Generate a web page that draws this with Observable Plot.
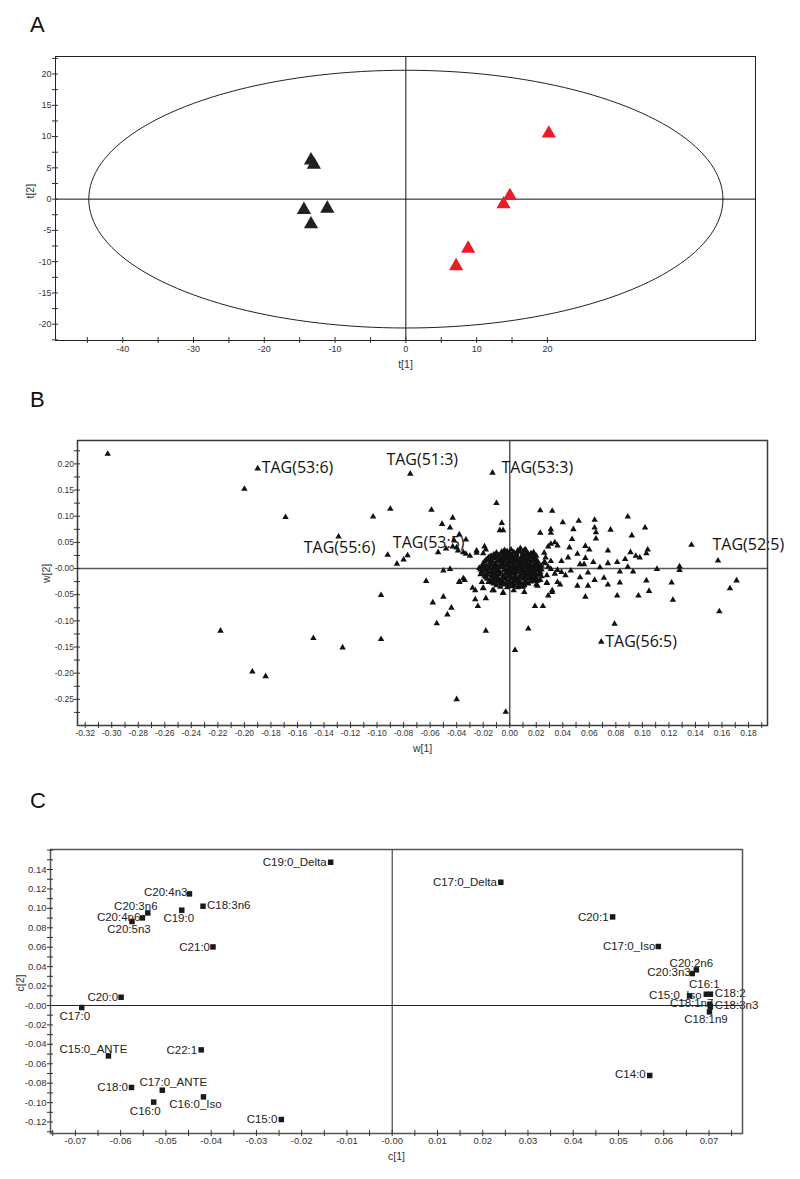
<!DOCTYPE html>
<html><head><meta charset="utf-8">
<script src="https://cdn.jsdelivr.net/npm/d3@7"></script>
<script src="https://cdn.jsdelivr.net/npm/@observablehq/plot@0.6"></script>
<style>
body{margin:0;background:#fff}
#root{position:relative;width:800px;height:1179px;overflow:hidden;background:#fff}
#root svg.panel{position:absolute;left:0}
</style></head><body><div id="root"></div>
<script>
// ---------------- Panel A: score plot t[1] / t[2] ----------------
const aGroup1 = [[-13.4,6.2],[-13.0,5.5],[-14.4,-1.7],[-11.1,-1.5],[-13.4,-4.0]];
const aGroup2 = [[20.2,10.5],[14.7,0.5],[13.8,-0.8],[8.8,-7.9],[7.1,-10.7]];
const aEllipseAxes = [44.8, 20.6];
const aXLabelVals = [-40,-30,-20,-10,0,10,20];
const aXLabelText = ["-40","-30","-20","-10","0","10","20"];
const aYLabelVals = [20,15,10,5,0,-5,-10,-15,-20];
const aYLabelText = ["20","15","10","5","0","-5","-10","-15","-20"];

// ---------------- Panel B: loading plot w[1] / w[2] ----------------
const bOuter = [
[-0.303,0.219],[-0.190,0.191],[-0.200,0.152],[-0.169,0.098],[-0.218,-0.119],[-0.148,-0.133],
[-0.194,-0.197],[-0.184,-0.206],[-0.075,0.181],[-0.013,0.183],[-0.103,0.099],[-0.090,0.114],
[-0.059,0.112],[-0.043,0.097],[-0.051,0.085],[-0.045,0.078],[-0.129,0.061],[-0.038,0.065],
[-0.033,0.055],[-0.043,0.042],[-0.040,0.040],[-0.092,0.026],[-0.080,0.017],[-0.085,0.009],
[-0.054,0.031],[-0.035,0.031],[-0.030,0.024],[-0.025,0.034],[-0.019,0.042],[-0.020,0.029],
[-0.045,-0.001],[-0.063,-0.024],[-0.038,-0.025],[-0.035,-0.019],[-0.097,-0.051],[-0.058,-0.065],
[-0.050,-0.054],[-0.044,-0.075],[-0.047,-0.088],[-0.055,-0.105],[-0.126,-0.151],[-0.097,-0.135],
[-0.040,-0.250],[-0.028,-0.037],[-0.026,-0.042],[-0.026,-0.059],[-0.024,-0.072],[-0.018,-0.057],
[-0.020,-0.038],[-0.012,-0.042],[-0.018,-0.119],[-0.021,-0.026],[-0.016,-0.026],[-0.013,-0.027],
[0.014,-0.115],[0.004,-0.156],[-0.003,-0.274],[0.019,-0.072],[0.025,-0.072],[0.029,-0.052],
[0.032,-0.042],[0.038,-0.031],[0.051,-0.033],[0.059,-0.033],[0.057,-0.054],[0.074,-0.031],
[0.083,-0.027],[0.081,-0.052],[0.079,-0.106],[0.069,-0.140],[0.097,-0.052],[0.105,-0.043],
[0.103,-0.023],[0.122,-0.027],[0.123,-0.060],[0.158,-0.082],[0.166,-0.038],[0.171,-0.023],
[-0.005,-0.046],[0.003,-0.042],[0.020,-0.031],[0.008,-0.034],[0.028,-0.027],[-0.010,0.125],
[-0.006,0.087],[-0.0075,0.073],[-0.005,0.073],[0.023,0.111],[0.032,0.110],[0.040,0.088],
[0.052,0.091],[0.064,0.093],[0.064,0.078],[0.065,0.069],[0.065,0.057],[0.048,0.075],
[0.047,0.056],[0.023,0.068],[0.031,0.075],[0.031,0.068],[0.076,0.074],[0.089,0.099],
[0.092,0.063],[0.102,0.078],[0.104,0.036],[0.103,0.029],[0.091,0.031],[0.095,0.024],
[0.098,0.021],[0.137,0.045],[0.157,0.015],[0.128,0.004],[0.128,-0.003],[0.111,-0.001],
[0.074,0.034],[0.081,0.012],[0.074,0.010],[0.083,-0.006],[0.093,-0.006],[0.089,0.003],
[0.051,0.028],[0.057,0.043],[0.060,0.036],[0.057,0.020],[0.053,0.008],[0.056,0.008],
[0.063,0.012],[0.059,-0.008],[0.053,-0.017],[0.042,-0.013],[0.039,-0.007],[0.039,0.014],
[0.031,-0.001],[0.027,0.010],[0.026,0.030],[0.029,0.042],[0.031,0.047],[0.034,0.050],
[0.036,0.044],[0.027,0.021],[0.008,0.039],[0.012,0.036],[0.018,0.031],[-0.015,0.022],
[0.024,-0.015],[0.028,-0.013],[0.021,-0.023],[-0.033,0.028],[-0.042,0.054],[-0.048,0.038],
[-0.077,0.025],[-0.038,-0.026],[-0.034,-0.022],[-0.020,-0.037],[-0.013,-0.042],[-0.005,-0.047],
[0.011,-0.045],[0.021,-0.033],[0.023,-0.022],[0.028,-0.028],[0.032,-0.045],[0.036,-0.026],
[0.026,0.012],[0.029,0.003],[0.031,0.014],[0.034,-0.010],[0.036,-0.003],[-0.039,0.034],
[-0.025,0.030],[-0.018,0.036],[-0.050,-0.004],[0.044,0.021],[0.046,-0.004],[0.068,0.002],
[0.071,-0.018],[0.064,-0.022],[0.087,0.018],[0.045,0.040]
];
const bCore = [
[-0.006,0.032],[-0.002,0.033],[0.003,0.031],[0.008,0.032],[0.013,0.030],
[-0.012,0.027],[-0.008,0.026],[-0.003,0.028],[0.001,0.026],[0.005,0.027],[0.010,0.026],[0.014,0.028],[0.018,0.025],
[-0.016,0.021],[-0.011,0.022],[-0.007,0.020],[-0.002,0.021],[0.002,0.022],[0.006,0.020],[0.011,0.021],[0.015,0.022],[0.019,0.020],
[-0.018,0.016],[-0.014,0.015],[-0.009,0.016],[-0.005,0.017],[0.000,0.015],[0.004,0.016],[0.008,0.015],[0.012,0.017],[0.017,0.016],[0.021,0.014],
[-0.020,0.010],[-0.015,0.011],[-0.011,0.009],[-0.006,0.010],[-0.002,0.011],[0.003,0.009],[0.007,0.010],[0.011,0.011],[0.015,0.009],[0.019,0.010],[0.022,0.008],
[-0.021,0.004],[-0.017,0.005],[-0.012,0.003],[-0.008,0.004],[-0.003,0.005],[0.001,0.003],[0.005,0.004],[0.009,0.005],[0.014,0.003],[0.018,0.004],[0.022,0.002],
[-0.022,-0.002],[-0.018,-0.001],[-0.013,-0.003],[-0.009,-0.002],[-0.004,-0.001],[0.000,-0.003],[0.004,-0.002],[0.009,-0.001],[0.013,-0.003],[0.017,-0.002],[0.021,-0.001],
[-0.020,-0.008],[-0.016,-0.007],[-0.011,-0.009],[-0.007,-0.008],[-0.002,-0.007],[0.002,-0.009],[0.006,-0.008],[0.011,-0.007],[0.015,-0.009],[0.019,-0.008],[0.023,-0.007],
[-0.019,-0.014],[-0.014,-0.013],[-0.010,-0.015],[-0.005,-0.014],[-0.001,-0.013],[0.004,-0.015],[0.008,-0.014],[0.012,-0.013],[0.016,-0.015],[0.020,-0.014],
[-0.017,-0.020],[-0.012,-0.019],[-0.008,-0.021],[-0.003,-0.020],[0.001,-0.019],[0.005,-0.021],[0.010,-0.020],[0.014,-0.019],[0.018,-0.021],
[-0.014,-0.026],[-0.009,-0.025],[-0.005,-0.027],[0.000,-0.026],[0.004,-0.025],[0.008,-0.027],[0.012,-0.026],[0.016,-0.025],
[-0.010,-0.032],[-0.005,-0.031],[-0.001,-0.033],[0.003,-0.032],[0.007,-0.031],[0.011,-0.032]
];
const bCore2 = [
[-0.004,0.035],[0.001,0.036],[0.006,0.034],[0.011,0.035],
[-0.010,0.030],[-0.005,0.029],[0.000,0.030],[0.005,0.029],[0.010,0.030],[0.016,0.029],
[-0.014,0.024],[-0.009,0.024],[-0.005,0.023],[0.000,0.024],[0.004,0.024],[0.009,0.023],[0.013,0.024],[0.017,0.023],[0.020,0.024],
[-0.017,0.018],[-0.012,0.019],[-0.007,0.018],[-0.003,0.019],[0.002,0.018],[0.006,0.018],[0.010,0.019],[0.014,0.018],[0.019,0.018],
[-0.019,0.013],[-0.013,0.013],[-0.008,0.013],[-0.004,0.013],[0.001,0.012],[0.005,0.013],[0.009,0.013],[0.013,0.012],[0.017,0.013],[0.021,0.012],
[-0.020,0.007],[-0.014,0.007],[-0.010,0.006],[-0.005,0.007],[-0.001,0.007],[0.003,0.006],[0.007,0.007],[0.012,0.007],[0.016,0.006],[0.020,0.007],[0.024,0.005],
[-0.023,0.001],[-0.019,0.002],[-0.015,0.001],[-0.010,0.001],[-0.006,0.002],[-0.001,0.000],[0.003,0.001],[0.007,0.001],[0.011,0.002],[0.016,0.000],[0.020,0.001],[0.024,-0.002],
[-0.021,-0.005],[-0.017,-0.004],[-0.013,-0.006],[-0.009,-0.005],[-0.004,-0.004],[0.000,-0.006],[0.004,-0.005],[0.008,-0.004],[0.013,-0.006],[0.017,-0.005],[0.021,-0.004],
[-0.022,-0.011],[-0.017,-0.011],[-0.013,-0.012],[-0.008,-0.011],[-0.003,-0.010],[0.000,-0.012],[0.004,-0.011],[0.009,-0.010],[0.013,-0.012],[0.018,-0.011],[0.022,-0.011],
[-0.018,-0.017],[-0.013,-0.016],[-0.009,-0.018],[-0.005,-0.017],[-0.001,-0.016],[0.003,-0.018],[0.007,-0.017],[0.011,-0.016],[0.015,-0.018],[0.019,-0.017],
[-0.015,-0.023],[-0.011,-0.022],[-0.006,-0.024],[-0.002,-0.023],[0.003,-0.022],[0.007,-0.024],[0.012,-0.023],[0.016,-0.022],[0.020,-0.024],
[-0.012,-0.029],[-0.007,-0.028],[-0.003,-0.030],[0.002,-0.029],[0.006,-0.028],[0.010,-0.030],[0.014,-0.029],
[-0.007,-0.035],[-0.002,-0.036],[0.002,-0.034],[0.006,-0.036],[0.010,-0.035]
];
const bLabelNames = ["TAG(53:6)","TAG(51:3)","TAG(53:3)","TAG(55:6)","TAG(53:5)","TAG(52:5)","TAG(56:5)"];
const bLabelW1 = [-0.190,-0.075,-0.013,-0.129,-0.043,0.137,0.069];
const bLabelW2 = [0.191,0.181,0.183,0.061,0.042,0.045,-0.140];
const bXLabelVals = [-0.32,-0.30,-0.28,-0.26,-0.24,-0.22,-0.20,-0.18,-0.16,-0.14,-0.12,-0.10,-0.08,-0.06,-0.04,-0.02,0,0.02,0.04,0.06,0.08,0.10,0.12,0.14,0.16,0.18];
const bXLabelText = ["-0.32","-0.30","-0.28","-0.26","-0.24","-0.22","-0.20","-0.18","-0.16","-0.14","-0.12","-0.10","-0.08","-0.06","-0.04","-0.02","0.00","0.02","0.04","0.06","0.08","0.10","0.12","0.14","0.16","0.18"];
const bYLabelVals = [0.20,0.15,0.10,0.05,0,-0.05,-0.10,-0.15,-0.20,-0.25];
const bYLabelText = ["0.20","0.15","0.10","0.05","-0.00","-0.05","-0.10","-0.15","-0.20","-0.25"];

// ---------------- Panel C: loading plot c[1] / c[2] ----------------
const cNames = ["C19:0_Delta","C20:4n3","C18:3n6","C19:0","C20:3n6","C20:4n6","C20:5n3","C21:0","C20:0","C17:0","C15:0_ANTE","C22:1","C18:0","C17:0_ANTE","C16:0","C16:0_Iso","C15:0","C17:0_Delta","C20:1","C17:0_Iso","C20:2n6","C20:3n3","C15:0_Iso","C16:1","C18:2","C18:1n7","C18:3n3","C18:1n9","C14:0"];
const cX = [-0.0136,-0.0448,-0.0418,-0.0465,-0.0540,-0.0552,-0.0575,-0.0396,-0.0599,-0.0686,-0.0627,-0.0422,-0.0576,-0.0508,-0.0527,-0.0417,-0.0245,0.0240,0.0487,0.0588,0.0672,0.0663,0.0657,0.0694,0.0703,0.0702,0.0703,0.0701,0.0569];
const cY = [0.1475,0.1149,0.1022,0.0981,0.0953,0.0902,0.0865,0.0603,0.0085,-0.0021,-0.0519,-0.0457,-0.0844,-0.0872,-0.0995,-0.0941,-0.1174,0.1269,0.0912,0.0607,0.0367,0.0329,0.0099,0.0116,0.0116,0.0013,-0.0014,-0.0066,-0.0721];
const cXLabelVals = [-0.07,-0.06,-0.05,-0.04,-0.03,-0.02,-0.01,0,0.01,0.02,0.03,0.04,0.05,0.06,0.07];
const cXLabelText = ["-0.07","-0.06","-0.05","-0.04","-0.03","-0.02","-0.01","-0.00","0.01","0.02","0.03","0.04","0.05","0.06","0.07"];
const cYLabelVals = [0.14,0.12,0.10,0.08,0.06,0.04,0.02,0,-0.02,-0.04,-0.06,-0.08,-0.10,-0.12];
const cYLabelText = ["0.14","0.12","0.10","0.08","0.06","0.04","0.02","-0.00","-0.02","-0.04","-0.06","-0.08","-0.10","-0.12"];

// ---------------- label placement (style) ----------------
const bPlace = [["start",4,-1],["middle",12,-14],["start",9,-4.5],["middle",1,11.5],["middle",-24,-4],["start",21,0],["start",4,0]];
const cPlace = {
 "C19:0_Delta":["end",-4,0],"C20:4n3":["end",-2,-1.5],"C18:3n6":["start",4,-1],"C19:0":["middle",-3,8],
 "C20:3n6":["middle",-12,-7],"C20:4n6":["end",-2,-1],"C20:5n3":["middle",-3,7.5],"C21:0":["end",-3,0],
 "C20:0":["end",-3,0],"C17:0":["middle",-7,9],"C15:0_ANTE":["middle",-15,-7],"C22:1":["end",-4,0],
 "C18:0":["end",-3.5,0],"C17:0_ANTE":["middle",11,-8],"C16:0":["middle",-8.5,9],"C16:0_Iso":["middle",-8,7.5],
 "C15:0":["end",-4,0],"C17:0_Delta":["end",-4,0],"C20:1":["end",-4,0],"C17:0_Iso":["end",-3,0],
 "C20:2n6":["middle",-5,-7],"C20:3n3":["end",-1.5,-1.5],"C15:0_Iso":["end",12,-0.5],"C16:1":["middle",-2,-9.5],
 "C18:2":["start",4.5,-0.5],"C18:1n7":["end",3.5,-1],"C18:3n3":["start",4.5,-2],"C18:1n9":["middle",-3.5,7.5],
 "C14:0":["end",-4,-1]
};

const NARROW = "'Liberation Sans Narrow','Liberation Sans',Arial,sans-serif";
const root = document.getElementById("root");

function panel(o) {
  const marks = [
    Plot.ruleX([0], {stroke: o.zeroStroke, strokeWidth: o.zeroWidth}),
    Plot.ruleY([0], {stroke: o.zeroStroke, strokeWidth: o.zeroWidth}),
    ...o.marks,
    Plot.frame({stroke: o.frameStroke, strokeWidth: o.frameWidth}),
    Plot.ruleX(o.xTicks, {x: d => d, y1: o.yd[0], y2: o.yd[0], insetTop: -3, insetBottom: -3, stroke: "#333", strokeWidth: 1}),
    Plot.ruleY(o.yTicks, {y: d => d, x1: o.xd[0], x2: o.xd[0], insetLeft: -3, insetRight: -3, stroke: "#333", strokeWidth: 1}),
    Plot.text(o.xLab, {x: d => d, frameAnchor: "bottom", dy: o.xPad, text: (d, i) => o.xLabText[i], fontSize: o.tickFont, fontFamily: NARROW, fill: "#333"}),
    Plot.text(o.yLab, {y: d => d, frameAnchor: "left", dx: -o.yPad, textAnchor: "end", text: (d, i) => o.yLabText[i], fontSize: o.tickFont, fontFamily: NARROW, fill: "#333"}),
    Plot.text([o.xTitle], {frameAnchor: "bottom", dy: o.xTitleDy, text: d => d, fontSize: 10.5, fontFamily: NARROW, fill: "#333"}),
    Plot.text([o.yTitle], {frameAnchor: "left", dx: o.yTitleDx, rotate: -90, text: d => d, fontSize: 10.5, fontFamily: NARROW, fill: "#333"})
  ];
  const svg = Plot.plot({
    width: 800, height: o.height,
    marginTop: o.mt, marginRight: o.mr, marginBottom: o.mb, marginLeft: o.ml,
    x: {domain: o.xd, axis: null}, y: {domain: o.yd, axis: null},
    style: {background: "transparent", overflow: "visible"},
    marks
  });
  svg.classList.add("panel");
  svg.style.top = o.top + "px";
  root.appendChild(svg);
}

// Panel A
const ell = d3.range(0, 361, 2).map(t => [aEllipseAxes[0] * Math.cos(t * Math.PI / 180), aEllipseAxes[1] * Math.sin(t * Math.PI / 180)]);
panel({
  top: 0, height: 390, mt: 56, mr: 45, mb: 50, ml: 55,
  xd: [-49.5, 49.4], yd: [-22.6, 22.8],
  xTicks: d3.range(-45, 21, 5), yTicks: d3.range(-22.5, 22.6, 2.5),
  xLab: aXLabelVals, xLabText: aXLabelText, yLab: aYLabelVals, yLabText: aYLabelText,
  xPad: 11.7, yPad: 4, tickFont: 9,
  xTitle: "t[1]", yTitle: "t[2]", xTitleDy: 27, yTitleDx: -24.5,
  frameStroke: "#222", frameWidth: 1, zeroStroke: "#111", zeroWidth: 1,
  marks: [
    Plot.line(ell, {x: d => d[0], y: d => d[1], stroke: "#222", strokeWidth: 1}),
    Plot.dot(aGroup1, {x: d => d[0], y: d => d[1], symbol: "triangle", r: 5.3, fill: "#231f20"}),
    Plot.dot(aGroup2, {x: d => d[0], y: d => d[1], symbol: "triangle", r: 5.3, fill: "#ed1c24"})
  ]
});

// Panel B
panel({
  top: 400, height: 400, mt: 40, mr: 33, mb: 75, ml: 77,
  xd: [-0.3258, 0.1943], yd: [-0.300, 0.2447],
  xTicks: d3.range(-32, 20).map(k => k / 100), yTicks: d3.range(-11, 10).map(k => k * 0.025),
  xLab: bXLabelVals, xLabText: bXLabelText, yLab: bYLabelVals, yLabText: bYLabelText,
  xPad: 10, yPad: 3.5, tickFont: 8.5,
  xTitle: "w[1]", yTitle: "w[2]", xTitleDy: 26.7, yTitleDx: -30.7,
  frameStroke: "#3a3a3a", frameWidth: 1.5, zeroStroke: "#555", zeroWidth: 1.5,
  marks: [
    Plot.dot(bCore, {x: d => d[0], y: d => d[1], symbol: "triangle", r: 2.4, fill: "#111"}),
    Plot.dot(bCore2, {x: d => d[0], y: d => d[1], symbol: "triangle", r: 2.4, fill: "#111"}),
    Plot.dot(bOuter, {x: d => d[0], y: d => d[1], symbol: "triangle", r: 2.4, fill: "#111"}),
    ...bLabelNames.map((name, i) => Plot.text([name], {
      x: () => bLabelW1[i], y: () => bLabelW2[i], text: d => d,
      textAnchor: bPlace[i][0], dx: bPlace[i][1], dy: bPlace[i][2],
      fontSize: 16, fontFamily: "'Open Sans',sans-serif", fill: "#111"
    }))
  ]
});

// Panel C
const cData = cNames.map((n, i) => ({name: n, x: cX[i], y: cY[i]}));
panel({
  top: 810, height: 369, mt: 39, mr: 58, mb: 46, ml: 50,
  xd: [-0.0755, 0.0774], yd: [-0.1318, 0.1606],
  xTicks: d3.range(-15, 16).map(k => k * 0.005), yTicks: d3.range(-13, 17).map(k => k / 100),
  xLab: cXLabelVals, xLabText: cXLabelText, yLab: cYLabelVals, yLabText: cYLabelText,
  xPad: 10.7, yPad: 4, tickFont: 9.5,
  xTitle: "c[1]", yTitle: "c[2]", xTitleDy: 26.7, yTitleDx: -30,
  frameStroke: "#555", frameWidth: 1.5, zeroStroke: "#222", zeroWidth: 1,
  marks: [
    Plot.dot(cData, {x: "x", y: "y", symbol: "square", r: 3.1, fill: "#1a1a1a"}),
    ...cData.map(d => Plot.text([d], {
      x: "x", y: "y", text: "name",
      textAnchor: cPlace[d.name][0], dx: cPlace[d.name][1], dy: cPlace[d.name][2],
      fontSize: 11.5, fontFamily: "'Liberation Sans',Arial,sans-serif", fill: "#222"
    }))
  ]
});

// Panel letters
const letters = [["A", 32.3], ["B", 407], ["C", 808]];
const ov = d3.create("svg").attr("class", "panel").attr("width", 800).attr("height", 1179).style("top", "0px").style("pointer-events", "none");
ov.selectAll("text").data(letters).join("text")
  .attr("x", 30).attr("y", d => d[1]).text(d => d[0])
  .attr("font-size", 22).attr("font-family", "'Liberation Sans',Arial,sans-serif").attr("fill", "#111");
root.appendChild(ov.node());
</script></body></html>
